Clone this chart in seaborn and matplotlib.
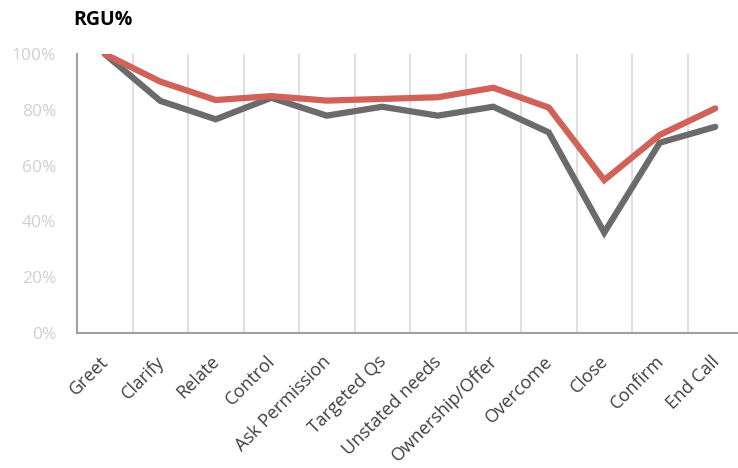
import numpy as np
import pandas as pd
import matplotlib.pyplot as plt
import matplotlib.transforms as mtransforms
import seaborn as sns
from matplotlib.ticker import PercentFormatter, FixedLocator

steps = ['Greet', 'Clarify', 'Relate', 'Control', 'Ask Permission', 'Targeted Qs',
         'Unstated needs', 'Ownership/Offer', 'Overcome', 'Close', 'Confirm', 'End Call']
red_vals = [100, 90.1, 83.5, 84.9, 83.3, 83.9, 84.5, 87.9, 80.8, 54.8, 71.0, 80.5]
gray_vals = [100, 83.2, 76.6, 84.3, 77.9, 81.1, 77.9, 81.1, 71.9, 36.0, 68.2, 73.9]

df = pd.DataFrame({
    'step': steps * 2,
    'value': red_vals + gray_vals,
    'series': ['red'] * len(steps) + ['gray'] * len(steps),
})

sns.set_style('white')
plt.rcParams['font.family'] = ['Open Sans', 'DejaVu Sans']

fig = plt.figure(figsize=(7.38, 4.68), dpi=100)
ax = fig.add_axes([77 / 738, (468 - 333) / 468, 666 / 738, 279 / 468])

sns.lineplot(data=df, x='step', y='value', hue='series', sort=False,
             palette={'red': '#D0625A', 'gray': '#6B6B6B'},
             hue_order=['gray', 'red'], linewidth=4.5, legend=False, ax=ax)
for ln in ax.lines:
    ln.set_solid_capstyle('round')
    ln.set_solid_joinstyle('miter')

ax.set_xlim(-0.5, len(steps) - 0.5)
ax.set_ylim(0, 100)
ax.yaxis.set_major_locator(FixedLocator([0, 20, 40, 60, 80, 100]))
ax.yaxis.set_major_formatter(PercentFormatter(decimals=0))

ax.xaxis.set_minor_locator(FixedLocator(np.arange(0.5, len(steps), 1.0)))
ax.grid(which='minor', axis='x', color='#D9D9D9', linewidth=1.2)
ax.grid(which='major', axis='both', visible=False)
ax.set_axisbelow(True)

ax.set_xticks(range(len(steps)))
ax.set_xticklabels(steps, rotation=45, ha='right', rotation_mode='anchor',
                   fontsize=13, color='#404040')
ax.tick_params(axis='x', which='both', length=0, pad=14)
ax.tick_params(axis='y', length=0, pad=15, labelsize=12.5, labelcolor='#D0D0D0')

# nudge rotated labels a bit left, like the original
shift = mtransforms.ScaledTranslation(-5 / 100, 0, fig.dpi_scale_trans)
for lbl in ax.get_xticklabels():
    lbl.set_transform(lbl.get_transform() + shift)

for s in ['top', 'right']:
    ax.spines[s].set_visible(False)
for s in ['left', 'bottom']:
    ax.spines[s].set_color('#A0A0A0')
    ax.spines[s].set_linewidth(1.5)

ax.set_xlabel('')
ax.set_ylabel('')
fig.text(73 / 738, 1 - 20 / 468, 'RGU%', fontsize=14, fontweight='bold',
         color='#000000', ha='left', va='center')

fig.savefig('out.png', dpi=100)
